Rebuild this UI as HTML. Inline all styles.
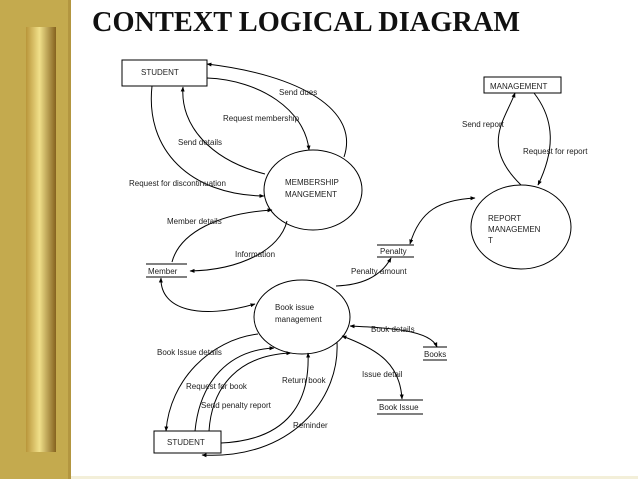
<!DOCTYPE html>
<html><head><meta charset="utf-8"><style>
html,body{margin:0;padding:0;background:#fff}
.wrap{position:relative;width:638px;height:479px;overflow:hidden;background:#fff}
</style></head><body><div class="wrap">
<svg width="638" height="479" viewBox="0 0 638 479" xmlns="http://www.w3.org/2000/svg">
<defs>
<linearGradient id="bar" x1="0" x2="1" y1="0" y2="0">
<stop offset="0" stop-color="#b9953a"/><stop offset="0.45" stop-color="#f0e08a"/><stop offset="1" stop-color="#85621e"/></linearGradient>
<marker id="a" viewBox="0 0 10 10" refX="9" refY="5" markerWidth="5" markerHeight="5" orient="auto-start-reverse"><path d="M0,1 L10,5 L0,9 z" fill="#000"/></marker>
</defs>
<rect x="0" y="0" width="71" height="479" fill="#c4aa4e"/>
<rect x="68" y="0" width="3" height="479" fill="#b39640"/>
<rect x="26" y="27" width="30" height="425" fill="url(#bar)"/>
<rect x="71" y="476" width="567" height="3" fill="#f3efd9"/>
<text x="92" y="31" font-family="Liberation Serif" font-weight="bold" font-size="29" fill="#111" textLength="428" lengthAdjust="spacingAndGlyphs">CONTEXT LOGICAL DIAGRAM</text>

<g fill="none" stroke="#000" stroke-width="1">
<rect x="122" y="60" width="85" height="26"/>
<rect x="484" y="77" width="77" height="16"/>
<rect x="154" y="431" width="67" height="22"/>
<ellipse cx="313" cy="190" rx="49" ry="40"/>
<ellipse cx="521" cy="227" rx="50" ry="42"/>
<ellipse cx="302" cy="317" rx="48" ry="37"/>
<line x1="377" y1="245" x2="414" y2="245"/><line x1="377" y1="257" x2="414" y2="257"/>
<line x1="146" y1="264" x2="187" y2="264"/><line x1="146" y1="277" x2="187" y2="277"/>
<line x1="423" y1="347" x2="447" y2="347"/><line x1="423" y1="360" x2="447" y2="360"/>
<line x1="377" y1="400" x2="423" y2="400"/><line x1="377" y1="414" x2="423" y2="414"/>

<path d="M344,157 C360,110 300,75 207,64" marker-end="url(#a)"/>
<path d="M207,78 C260,80 305,110 309,150" marker-end="url(#a)"/>
<path d="M265,174 C210,160 180,125 183,87" marker-end="url(#a)"/>
<path d="M152,86 C145,150 190,195 264,196" marker-end="url(#a)"/>
<path d="M172,262 C180,232 220,213 272,210" marker-end="url(#a)"/>
<path d="M287,221 C280,250 240,270 190,271" marker-end="url(#a)"/>
<path d="M521,185 C480,145 505,120 515,93" marker-end="url(#a)"/>
<path d="M534,93 C555,120 555,150 538,185" marker-end="url(#a)"/>
<path d="M410,244 C420,210 440,200 475,198" marker-start="url(#a)" marker-end="url(#a)"/>
<path d="M336,286 C360,285 380,278 391,258" marker-end="url(#a)"/>
<path d="M161,278 C160,310 200,320 255,304" marker-start="url(#a)" marker-end="url(#a)"/>
<path d="M350,326 C390,328 430,330 437,347" marker-start="url(#a)" marker-end="url(#a)"/>
<path d="M342,336 C380,350 400,365 402,399" marker-start="url(#a)" marker-end="url(#a)"/>
<path d="M258,334 C210,340 170,380 166,431" marker-end="url(#a)"/>
<path d="M195,431 C200,380 230,350 274,348" marker-end="url(#a)"/>
<path d="M209,431 C212,385 240,355 291,353" marker-end="url(#a)"/>
<path d="M221,443 C290,440 310,400 308,353" marker-end="url(#a)"/>
<path d="M337,342 C340,400 290,460 202,455" marker-end="url(#a)"/>
</g>

<g font-family="Liberation Sans" font-size="8" fill="#222">
<text x="141" y="75">STUDENT</text>
<text x="490" y="89">MANAGEMENT</text>
<text x="167" y="445">STUDENT</text>
<text x="285" y="185">MEMBERSHIP</text>
<text x="285" y="197">MANGEMENT</text>
<text x="488" y="221">REPORT</text>
<text x="488" y="232">MANAGEMEN</text>
<text x="488" y="243">T</text>
<text x="275" y="310">Book issue</text>
<text x="275" y="322">management</text>
<text x="380" y="254">Penalty</text>
<text x="148" y="274">Member</text>
<text x="424" y="357">Books</text>
<text x="379" y="410">Book Issue</text>
<text x="279" y="95">Send dues</text>
<text x="223" y="121">Request membership</text>
<text x="178" y="145">Send details</text>
<text x="129" y="186">Request for discontinuation</text>
<text x="167" y="224">Member details</text>
<text x="235" y="257">Information</text>
<text x="462" y="127">Send report</text>
<text x="523" y="154">Request for report</text>
<text x="351" y="274">Penalty amount</text>
<text x="371" y="332">Book details</text>
<text x="157" y="355">Book Issue details</text>
<text x="362" y="377">Issue detail</text>
<text x="186" y="389">Request for book</text>
<text x="282" y="383">Return book</text>
<text x="201" y="408">Send penalty report</text>
<text x="293" y="428">Reminder</text>
</g>
</svg>
</div></body></html>
